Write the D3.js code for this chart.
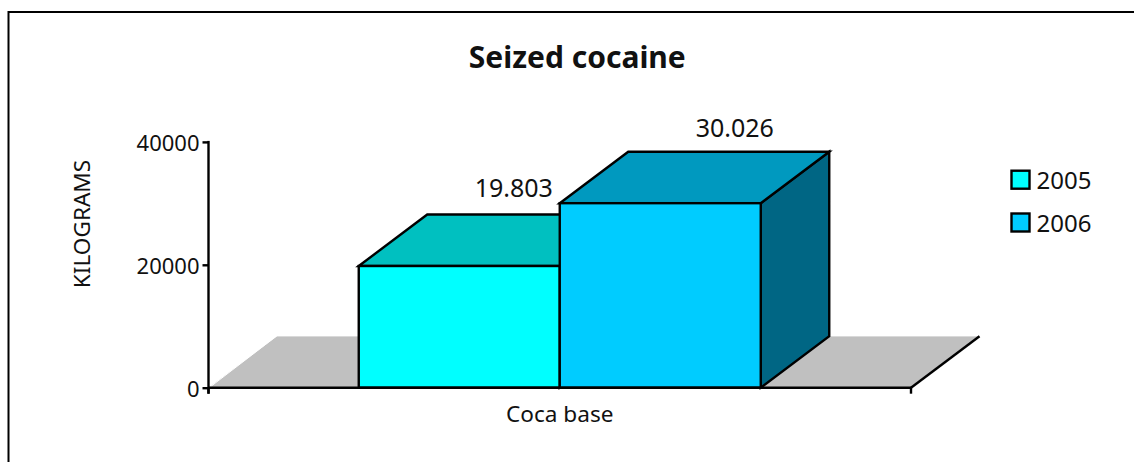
<!DOCTYPE html>
<html>
<head>
<meta charset="utf-8">
<script src="https://cdn.jsdelivr.net/npm/d3@7/dist/d3.min.js"></script>
<style>
html,body{margin:0;padding:0;background:#fff;overflow:hidden}
svg{display:block}
</style>
</head>
<body>
<svg id="c" width="1134" height="462" font-family="'Noto Sans',sans-serif"></svg>
<script>
const chartTitle = "Seized cocaine";
const yAxisTitle = "KILOGRAMS";
const categories = ["Coca base"];
const seriesNames = ["2005", "2006"];
const seriesValues = [19803, 30026];
const valueLabels = ["19.803", "30.026"];
const frontColors = ["#00ffff", "#00ccff"];
const topColors = ["#00c0c0", "#0099bf"];
const sideColors = ["#008080", "#006684"];
const yTicks = [0, 20000, 40000];

const svg = d3.select("#c");
const depth = {dx: 68.5, dy: 51.5};
const SW = 2.4;
const INK = "#111";
const x0 = d3.scaleBand().domain(categories).range([208.5, 911]).paddingInner(0).paddingOuter(0);
const groupW = 402;
const xSeries = d3.scaleBand().domain(seriesNames)
  .range([x0(categories[0]) + (x0.bandwidth() - groupW) / 2, x0(categories[0]) + (x0.bandwidth() + groupW) / 2]);
const y = d3.scaleLinear().domain([0, 40000]).range([387.7, 141.9]);
const K = "#000";

// frame: only left and top edges are inside the picture
svg.append("path").attr("d", "M8.5,462V12H1134").attr("fill", "none").attr("stroke", K).attr("stroke-width", 2);

// floor
const [fl, fr] = x0.range();
const fy = y(0);
const pts = a => a.map(p => p.join(",")).join(" ");
svg.append("polygon")
  .attr("points", pts([[fl, fy], [fl + depth.dx, fy - depth.dy], [fr + depth.dx, fy - depth.dy], [fr, fy]]))
  .attr("fill", "#c0c0c0");
svg.append("polyline")
  .attr("points", pts([[fl + 2, fy - 1], [fl + depth.dx, fy - depth.dy - 0.5], [fr + depth.dx, fy - depth.dy - 0.5]]))
  .attr("fill", "none").attr("stroke", "#fff").attr("stroke-width", 1);
svg.append("line").attr("x1", fr).attr("y1", fy).attr("x2", fr + depth.dx).attr("y2", fy - depth.dy)
  .attr("stroke", K).attr("stroke-width", SW);

// bars
seriesNames.forEach((s, i) => {
  const l = xSeries(s), r = l + xSeries.bandwidth(), t = y(seriesValues[i]), b = y(0);
  const g = svg.append("g").attr("stroke", K).attr("stroke-width", SW).attr("stroke-linejoin", "miter");
  g.append("polygon").attr("points", pts([[r, t], [r + depth.dx, t - depth.dy], [r + depth.dx, b - depth.dy], [r, b]])).attr("fill", sideColors[i]);
  g.append("polygon").attr("points", pts([[l, t], [l + depth.dx, t - depth.dy], [r + depth.dx, t - depth.dy], [r, t]])).attr("fill", topColors[i]);
  g.append("rect").attr("x", l).attr("y", t).attr("width", r - l).attr("height", b - t).attr("fill", frontColors[i]);
});

// axes
const yAxis = d3.axisLeft(y).tickValues(yTicks).tickSize(6).tickPadding(3).tickFormat(d3.format("d"));
const gy = svg.append("g").attr("transform", "translate(208.5,0)").call(yAxis);
gy.attr("font-family", null).attr("font-size", null);
gy.select(".domain").attr("stroke", K).attr("stroke-width", SW).attr("d", `M0,${y(40000) - 1}V${y(0) + 6}`);
gy.selectAll(".tick line").attr("stroke", K).attr("stroke-width", SW);
gy.selectAll("text").attr("font-size", 22).attr("fill", INK).attr("dy", "0.4em");

const gx = svg.append("g");
gx.append("line").attr("x1", fl).attr("x2", fr).attr("y1", fy).attr("y2", fy).attr("stroke", K).attr("stroke-width", SW);
gx.selectAll("line.t").data([fl, fr]).join("line").attr("class", "t")
  .attr("x1", d => d).attr("x2", d => d).attr("y1", fy).attr("y2", fy + 6).attr("stroke", K).attr("stroke-width", SW);
gx.append("text").attr("x", x0(categories[0]) + x0.bandwidth() / 2).attr("y", 421.7)
  .attr("text-anchor", "middle").attr("font-size", 22.6).attr("fill", INK).text(categories[0]);

// value labels
const labelDx = [54.5, 74.5];
const labelDy = [69.3, 66.5];
seriesNames.forEach((s, i) => {
  svg.append("text").attr("x", xSeries(s) + xSeries.bandwidth() / 2 + labelDx[i]).attr("y", y(seriesValues[i]) - labelDy[i])
    .attr("text-anchor", "middle").attr("font-size", 25).attr("fill", INK).text(valueLabels[i]);
});

// titles
svg.append("text").attr("x", 577.3).attr("y", 68.3).attr("text-anchor", "middle")
  .attr("font-size", 30).attr("font-weight", 700).attr("fill", INK).text(chartTitle);
svg.append("text").attr("transform", "translate(90,224) rotate(-90)").attr("text-anchor", "middle")
  .attr("font-size", 22.6).attr("fill", INK).text(yAxisTitle);

// legend
const ly = d3.scalePoint().domain(seriesNames).range([179.7, 222.5]);
seriesNames.forEach((s, i) => {
  svg.append("rect").attr("x", 1011.5).attr("y", ly(s) - 9).attr("width", 18).attr("height", 18)
    .attr("fill", frontColors[i]).attr("stroke", K).attr("stroke-width", SW);
  svg.append("text").attr("x", 1036.5).attr("y", ly(s) + 9.5).attr("font-size", 24).attr("fill", INK).text(s);
});
</script>
</body>
</html>
